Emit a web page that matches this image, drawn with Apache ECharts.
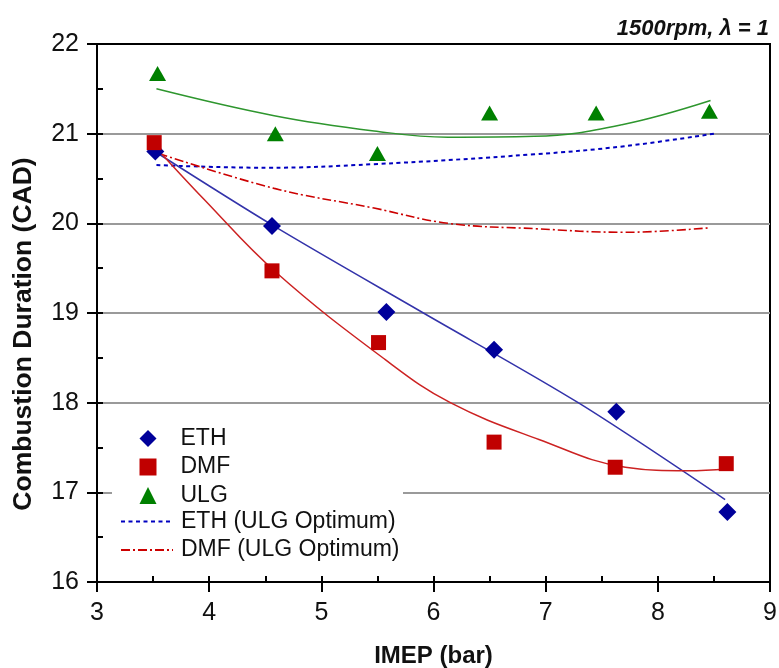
<!DOCTYPE html>
<html>
<head>
<meta charset="utf-8">
<script src="https://cdn.jsdelivr.net/npm/echarts@6/dist/echarts.min.js"></script>
<style>html,body{margin:0;padding:0;background:#fff}#c{width:779px;height:668px}</style>
</head>
<body>
<div id="c"></div>
<script>
// ---- data ----
var xTicks = [3, 4, 5, 6, 7, 8, 9];
var yTicks = [16, 17, 18, 19, 20, 21, 22];
var ethPoints = [[3.52, 20.80], [4.56, 19.97], [5.58, 19.01], [6.54, 18.59], [7.63, 17.90], [8.62, 16.78]];
var dmfPoints = [[3.51, 20.90], [4.56, 19.47], [5.51, 18.67], [6.54, 17.56], [7.62, 17.28], [8.61, 17.32]];
var ulgPoints = [[3.54, 21.67], [4.59, 21.00], [5.50, 20.78], [6.50, 21.23], [7.45, 21.23], [8.46, 21.25]];
var ethFit = [[3.53, 20.79], [4.59, 19.96], [5.91, 19.00], [7.29, 18.00], [8.60, 16.92]];
var dmfFit = [[3.50, 20.88], [3.96, 20.26], [4.59, 19.46], [5.57, 18.48], [6.15, 18.00], [6.94, 17.59], [7.71, 17.28], [8.27, 17.24], [8.62, 17.26]];
var ulgFit = [[3.53, 21.50], [4.58, 21.20], [5.47, 21.03], [6.13, 20.96], [6.90, 20.97], [7.68, 21.10], [8.47, 21.37]];
var ethOpt = [[3.53, 20.65], [4.50, 20.62], [5.47, 20.66], [6.90, 20.77], [7.70, 20.86], [8.50, 21.00]];
var dmfOpt = [[3.55, 20.78], [4.58, 20.39], [5.47, 20.17], [6.13, 20.00], [6.91, 19.94], [7.70, 19.90], [8.46, 19.95]];
var seriesNames = ['ETH', 'DMF', 'ULG', 'ETH (ULG Optimum)', 'DMF (ULG Optimum)'];
var titleText = '1500rpm, \u03bb = 1';
var xName = 'IMEP (bar)';
var yName = 'Combustion Duration (CAD)';

var FONT = "'Liberation Sans', Arial, sans-serif";
var chart = echarts.init(document.getElementById('c'), null, {renderer: 'canvas'});
var xMin = xTicks[0], xMax = xTicks[xTicks.length - 1];
var yMin = yTicks[0], yMax = yTicks[yTicks.length - 1];

var option = {
  backgroundColor: '#fff',
  animation: false,
  title: {
    text: titleText, right: 5, top: 13,
    textStyle: {fontFamily: FONT, fontSize: 22, fontWeight: 'bold', fontStyle: 'italic', color: '#111'}
  },
  grid: {left: 97, right: 9, top: 44, bottom: 86, show: true, borderColor: '#000', borderWidth: 2,
    backgroundColor: 'transparent', containLabel: false, outerBoundsMode: 'none'},
  legend: [{
    data: seriesNames.slice(0, 3), orient: 'vertical', left: 139.5, top: 427,
    itemWidth: 17, itemHeight: 17, itemGap: 5.5, padding: 0,
    textStyle: {fontFamily: FONT, fontSize: 23, color: '#111', lineHeight: 22, padding: [0, 0, 0, 19]}
  }, {
    data: seriesNames.slice(3), orient: 'vertical', left: 120, top: 510,
    itemWidth: 52, itemHeight: 14, itemGap: 5.5, padding: 0,
    itemStyle: {opacity: 0},
    textStyle: {fontFamily: FONT, fontSize: 23, color: '#111', lineHeight: 22, padding: [0, 0, 0, 3]}
  }],
  graphic: [{
    type: 'rect', left: 112, top: 418, z: 1,
    shape: {width: 291, height: 148}, style: {fill: '#fff'}
  }, {
    type: 'text', x: 24, y: 334, rotation: Math.PI / 2, z: 5,
    style: {text: yName, fontFamily: FONT, fontSize: 26.5, fontWeight: 'bold', fill: '#111', textAlign: 'center', textVerticalAlign: 'middle'}
  }],
  xAxis: [{
    type: 'value', min: xMin, max: xMax, interval: 1, position: 'bottom',
    name: xName, nameLocation: 'middle', nameGap: 62,
    nameTextStyle: {fontFamily: FONT, fontSize: 24, fontWeight: 'bold', color: '#111'},
    axisLine: {show: true, onZero: false, lineStyle: {color: '#000', width: 2}},
    axisTick: {show: true, inside: true, length: 6, lineStyle: {color: '#000', width: 2}},
    minorTick: {show: true, splitNumber: 2, length: 6, lineStyle: {color: '#000', width: 2}},
    axisLabel: {fontFamily: FONT, fontSize: 25, color: '#111', margin: 19},
    splitLine: {show: false}
  }, {
    type: 'value', min: xMin, max: xMax, interval: 1, position: 'bottom',
    axisLine: {show: false, onZero: false},
    axisTick: {show: true, inside: false, length: 10, lineStyle: {color: '#000', width: 2}},
    axisLabel: {show: false}, splitLine: {show: false}
  }],
  yAxis: [{
    type: 'value', min: yMin, max: yMax, interval: 1, position: 'left',
    axisLine: {show: true, onZero: false, lineStyle: {color: '#000', width: 2}},
    axisTick: {show: true, inside: false, length: 10, lineStyle: {color: '#000', width: 2}},
    axisLabel: {fontFamily: FONT, fontSize: 25, color: '#111', margin: 18},
    splitLine: {show: true, showMinLine: false, showMaxLine: false, lineStyle: {color: '#9a9a9a', width: 2}}
  }, {
    type: 'value', min: yMin, max: yMax, interval: 0.5, position: 'left',
    axisLine: {show: false, onZero: false},
    axisTick: {show: true, inside: true, length: 6, lineStyle: {color: '#000', width: 2}},
    axisLabel: {show: false}, splitLine: {show: false}
  }],
  series: [
    {name: seriesNames[0], type: 'scatter', data: ethPoints, symbol: 'diamond', symbolSize: 18, itemStyle: {color: '#00009a', opacity: 1}, z: 5},
    {name: seriesNames[1], type: 'scatter', data: dmfPoints, symbol: 'rect', symbolSize: 15, itemStyle: {color: '#c00000', opacity: 1}, z: 5},
    {name: seriesNames[2], type: 'scatter', data: ulgPoints, symbol: 'triangle', symbolSize: [17, 15], itemStyle: {color: '#008000', opacity: 1}, z: 5},
    {name: seriesNames[3], type: 'line', data: ethOpt, smooth: 0.4, symbol: 'none', showSymbol: false,
      itemStyle: {color: '#0000c0'}, lineStyle: {color: '#0000c0', width: 2, type: [4, 3.5]}, z: 3},
    {name: seriesNames[4], type: 'line', data: dmfOpt, smooth: 0.4, symbol: 'none', showSymbol: false,
      itemStyle: {color: '#cc0000'}, lineStyle: {color: '#cc0000', width: 1.6, type: [9, 3, 2, 3]}, z: 3},
    {name: 'ethFit', type: 'line', data: ethFit, smooth: 0.3, symbol: 'none', lineStyle: {color: '#3333aa', width: 1.5}, z: 3},
    {name: 'dmfFit', type: 'line', data: dmfFit, smooth: 0.4, symbol: 'none', lineStyle: {color: '#cc2222', width: 1.5}, z: 3},
    {name: 'ulgFit', type: 'line', data: ulgFit, smooth: 0.4, symbol: 'none', lineStyle: {color: '#2e962e', width: 1.5}, z: 3}
  ]
};
chart.setOption(option);
</script>
</body>
</html>
